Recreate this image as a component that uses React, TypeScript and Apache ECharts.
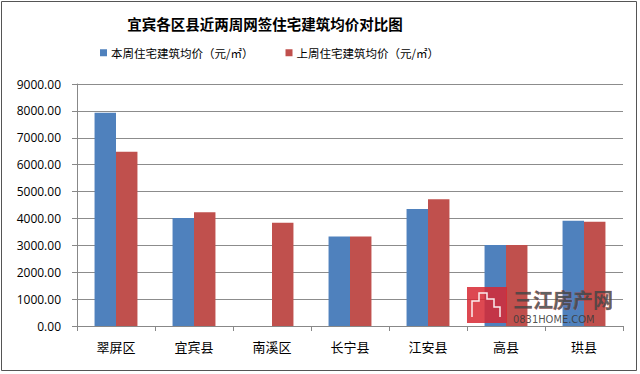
import React, { useEffect, useRef } from "react";
import * as echarts from "echarts";

const categories = ["翠屏区", "宜宾县", "南溪区", "长宁县", "江安县", "高县", "珙县"];
const thisWeek = [7930, 4020, 0, 3330, 4350, 3010, 3910];
const lastWeek = [6480, 4230, 3840, 3330, 4710, 3010, 3880];
const seriesNames = ["本周住宅建筑均价（元/㎡）", "上周住宅建筑均价（元/㎡）"];
const titleText = "宜宾各区县近两周网签住宅建筑均价对比图";

export default function App() {
  const ref = useRef<HTMLDivElement>(null);
  useEffect(() => {
    if (!ref.current) return;
    const chart = echarts.init(ref.current, null, { renderer: "svg" });
    const font = "'Noto Sans CJK SC', 'Microsoft YaHei', sans-serif";
    chart.setOption({
      animation: false,
      backgroundColor: "#ffffff",
      textStyle: { fontFamily: font },
      title: {
        text: titleText,
        left: 260,
        textAlign: "center",
        top: 11,
        textStyle: { fontSize: 14.5, fontWeight: "bold", color: "#000", fontFamily: font },
      },
      legend: {
        left: 100,
        top: 47,
        padding: 0,
        itemWidth: 7,
        itemHeight: 7,
        itemGap: 32,
        icon: "rect",
        textStyle: { fontSize: 11.5, color: "#000", fontFamily: font, padding: [0, 0, 0, -1] },
        data: seriesNames,
      },
      grid: { left: 77, right: 17, top: 84, bottom: 48, containLabel: false },
      xAxis: {
        type: "category",
        data: categories,
        axisLine: { lineStyle: { color: "#888", width: 1 } },
        axisTick: { show: true, alignWithLabel: false, length: 5, lineStyle: { color: "#888" } },
        axisLabel: { fontSize: 13, color: "#000", margin: 14, fontFamily: font },
      },
      yAxis: {
        type: "value",
        min: 0,
        max: 9000,
        interval: 1000,
        axisLine: { show: true, lineStyle: { color: "#888", width: 1 } },
        axisTick: { show: true, length: 5, lineStyle: { color: "#888" } },
        axisLabel: {
          fontSize: 12,
          color: "#000",
          margin: 16,
          fontFamily: "'Open Sans', 'DejaVu Sans', sans-serif",
          formatter: (v: number) => v.toFixed(2),
        },
        splitLine: { show: true, lineStyle: { color: "#8c8c8c", width: 1 } },
      },
      series: [
        {
          name: seriesNames[0],
          type: "bar",
          data: thisWeek,
          barGap: "0%",
          barCategoryGap: "45%",
          itemStyle: { color: "#4F81BD" },
        },
        {
          name: seriesNames[1],
          type: "bar",
          data: lastWeek,
          itemStyle: { color: "#C0504D" },
        },
      ],
      graphic: [
        {
          type: "rect",
          z: 100,
          shape: { x: 1.5, y: 1.5, width: 635, height: 369 },
          style: { fill: "none", stroke: "#555", lineWidth: 1 },
          silent: true,
        },
        {
          type: "group",
          left: 467,
          top: 287,
          z: 100,
          silent: true,
          children: [
            {
              type: "rect",
              z: 100,
              shape: { x: 0, y: 0, width: 40, height: 36 },
              style: { fill: "rgba(215,40,50,0.85)" },
            },
            {
              type: "polyline",
              z: 101,
              shape: { points: [[5, 30], [5, 14], [12, 14], [12, 6], [20, 6], [20, 12], [27, 12], [27, 20], [33, 20], [33, 30]] },
              style: { stroke: "rgba(255,255,255,0.9)", fill: "none", lineWidth: 1.5 },
            },
            {
              type: "text",
              z: 100,
              x: 46,
              y: 2,
              style: { text: "三江房产网", fontSize: 20, fontWeight: "bold", fill: "rgba(70,70,70,0.85)", stroke: "rgba(220,60,60,0.6)", lineWidth: 0.6, fontFamily: font },
            },
            {
              type: "text",
              z: 100,
              x: 46,
              y: 27,
              style: { text: "0831HOME.COM", fontSize: 11, fill: "rgba(60,60,60,0.9)", fontFamily: "'DejaVu Sans Condensed', 'DejaVu Sans', sans-serif" },
            },
          ],
        },
      ],
    });
    return () => chart.dispose();
  }, []);
  return <div ref={ref} style={{ width: 640, height: 374, position: "absolute", left: 0, top: 0 }} />;
}
